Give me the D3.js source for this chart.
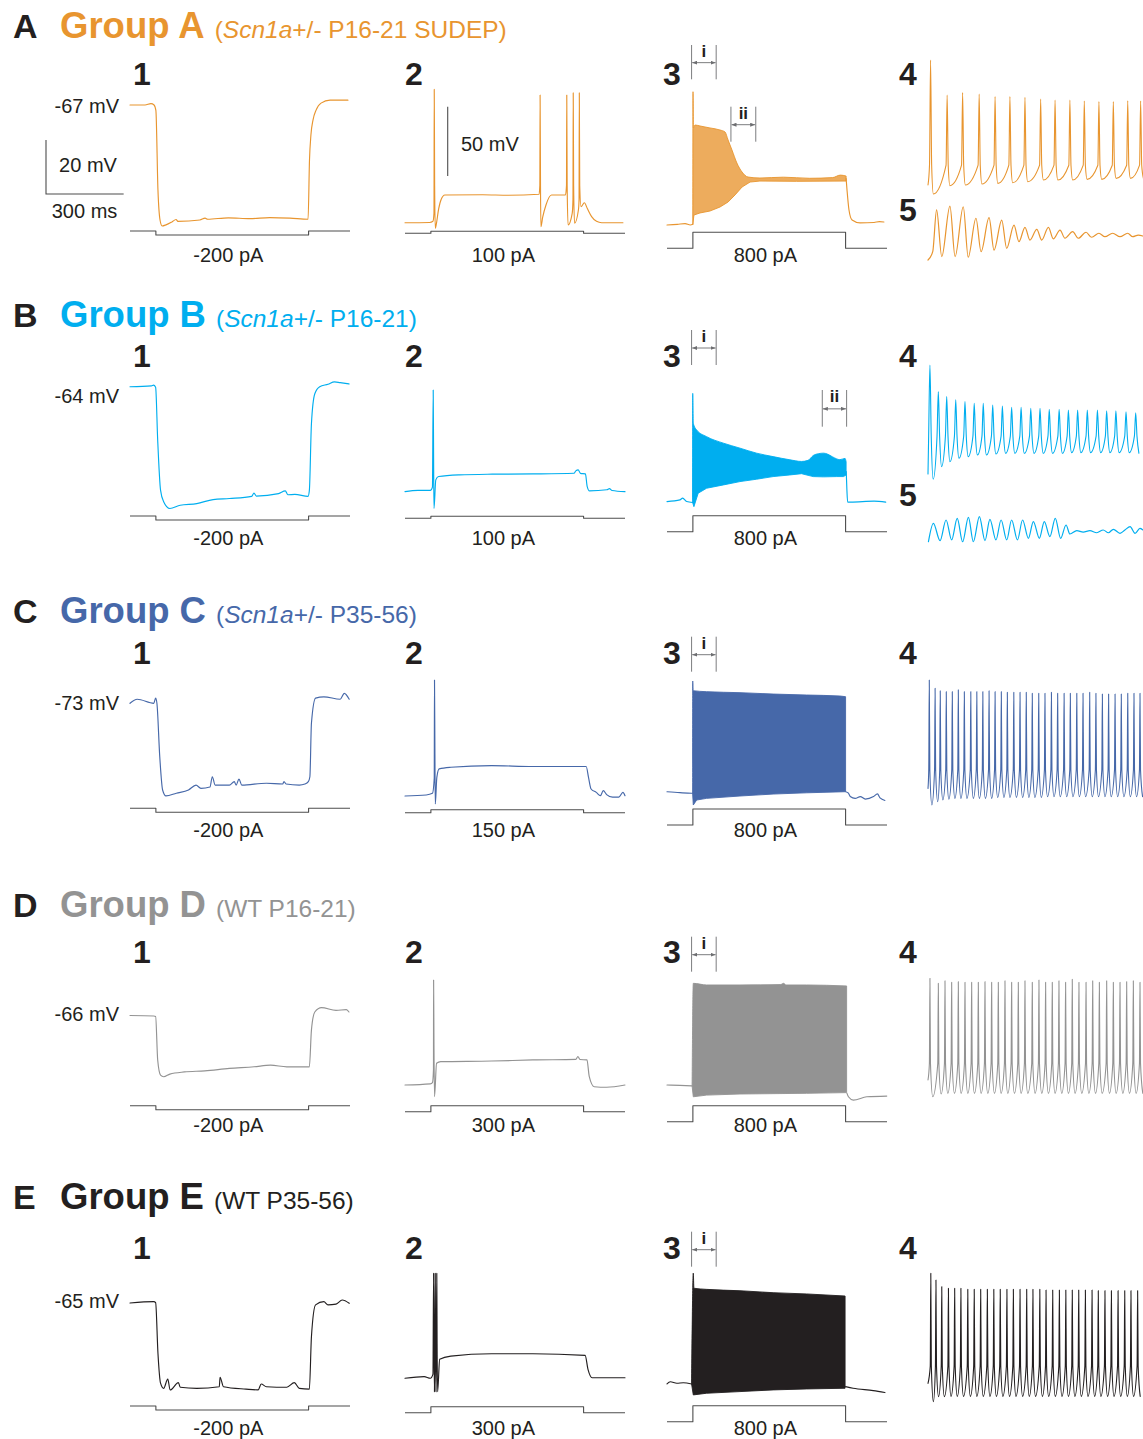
<!DOCTYPE html>
<html>
<head>
<meta charset="utf-8">
<script src="https://cdn.jsdelivr.net/npm/d3@7"></script>
<style>
  body { margin: 0; background: #ffffff; }
  svg { display: block; }
</style>
</head>
<body>
<svg id="fig" width="1143" height="1439"></svg>
<script>
// ---------------------------------------------------------------------------
// Groups, stimulus protocol and labels
// ---------------------------------------------------------------------------
const groupLetters   = ["A", "B", "C", "D", "E"];
const groupNames     = ["Group A", "Group B", "Group C", "Group D", "Group E"];
const genotypeItalic = ["Scn1a", "Scn1a", "Scn1a", "", ""];
const groupDetails   = ["+/- P16-21 SUDEP", "+/- P16-21", "+/- P35-56", "WT P16-21", "WT P35-56"];
const groupColors    = ["#E8952F", "#00AEEF", "#4668A9", "#939393", "#231F20"];
const restPotentials = [-67, -64, -73, -66, -65];      // mV
const hyperSteps     = [-200, -200, -200, -200, -200]; // pA, panel 1
const rheobaseSteps  = [100, 100, 150, 300, 300];      // pA, panel 2
const maxSteps       = [800, 800, 800, 800, 800];      // pA, panel 3
const stepWindow     = [100, 690];                     // ms
const sweepLength    = 850;                            // ms
const expandedWindow = 100;                            // ms shown in panels 4-5
const windowI        = [95, 190];                      // ms, expanded in panel 4
const windowII       = [[247, 343], [600, 694]];       // ms, expanded in panel 5 (A, B)
const scaleBars      = { mV1: 20, ms1: 300, mV2: 50 };

// ---------------------------------------------------------------------------
// Panel 1: hyperpolarising step, [time ms, Vm mV]
// ---------------------------------------------------------------------------
const hyperA = [[0,-67],[58,-67],[81,-66.5],[93,-67],[100,-69],[108,-98.5],[116,-109.6],[124,-111.8],
  [139,-111.4],[162,-110.3],[178,-109.4],[185,-110.1],[270,-109.6],[290,-108.9],[300,-109.3],[380,-108.8],
  [464,-109.1],[540,-108.7],[618,-108.9],[688,-109.3],[693.5,-87.4],[699,-78.1],[707,-72.6],[719,-68.9],
  [738,-66.3],[773,-65.2],[842,-65.2]];
const hyperB = [[0,-64],[83,-63.7],[91,-63.4],[99,-64.2],[107,-83.8],[118,-102.3],[130,-106.6],[154,-109.1],
  [194,-107.9],[258,-107.3],[321,-105.8],[384,-105.4],[470,-104.6],[479,-103.4],[488,-104.5],[574,-103.6],
  [600,-102.6],[610,-104],[637,-103.9],[688,-104.6],[693,-102.4],[701,-77.7],[714,-66.6],[733,-64],
  [765,-63.1],[790,-62.2],[812,-62.5],[847,-63]];
const hyperC = [[0,-73],[28,-71.5],[92,-73],[99,-71.1],[104,-73],[115,-92.8],[126,-105.1],[139,-107.3],
  [179,-106.3],[226,-105.1],[255,-103.3],[274,-104.5],[309,-104],[318,-100.2],[329,-103.3],[384,-103.3],
  [403,-102],[410,-103.3],[421,-101.1],[432,-103.3],[527,-102.6],[590,-102.9],[595,-102],[603,-102.9],
  [654,-103.3],[676,-102.9],[689,-102],[695,-100.2],[701,-80.4],[717,-71.1],[749,-70.6],[812,-71.5],
  [828,-69.3],[847,-71.5]];
const hyperD = [[0,-66],[92,-66.2],[99,-66.4],[107,-82.5],[118,-88.1],[130,-88.7],[154,-87.7],[210,-86.9],
  [289,-86.5],[384,-85.6],[479,-85],[543,-84.4],[606,-85],[693,-85],[701,-71.4],[714,-64.7],[740,-63.1],
  [796,-64.1],[836,-63.8],[846,-64.7]];
const hyperE = [[0,-65],[92,-64.5],[99,-64.9],[108,-83.6],[118,-94.7],[130,-96.6],[146,-93.2],[155,-97.2],
  [187,-94.5],[194,-96.2],[258,-96.6],[345,-96],[348,-92.5],[361,-96],[448,-96.9],[495,-97.2],[507,-95],
  [527,-96],[606,-96.2],[635,-94.5],[654,-96.6],[693,-96.9],[701,-77.5],[717,-65.7],[749,-64.5],
  [765,-65.7],[796,-65.4],[820,-63.9],[847,-65.1]];

// ---------------------------------------------------------------------------
// Panel 2: rheobase step, [time ms, Vm mV]
// ---------------------------------------------------------------------------
const rheoA = [[0,-67],[95,-66.8],[108,-66],[112,-60],[113,29.2],[114.5,-40],[117,-71.1],[121,-68],[130,-57],
  [140,-50],[154,-47],[300,-46.8],[400,-47.2],[518,-46.5],[521,-40],[522,25.1],[523.5,-40],[525,-69.9],
  [532,-63],[545,-54],[566,-47],[620,-47],[624,-40],[625,25.1],[626.5,-40],[630,-68.6],[646,-60.2],
  [649,-50],[650,26.7],[651.5,-40],[655,-67.4],[670,-57.8],[672.5,-50],[673.5,26.7],[675,-40],[680,-55.4],
  [693,-52.6],[705,-57],[721,-62.6],[740,-66],[760,-67],[842,-67]];
const rheoB = [[0,-64],[50,-63.1],[98,-63.1],[106,-60.7],[109,9.3],[110.5,-40],[112,-76.1],[119,-55.5],
  [130,-53.1],[210,-51.9],[337,-51.4],[495,-51.2],[653,-50.7],[660,-49],[669,-48.3],[678,-50.8],[697,-51.2],
  [704,-60.3],[713,-63.4],[780,-62.6],[790,-61.8],[800,-63.2],[850,-64]];
const rheoC = [[0,-73],[82,-72.3],[106,-71.1],[113,-60],[114,10.6],[115.5,-40],[117,-78.8],[123,-59.6],
  [132,-53.5],[177,-52.3],[335,-51.1],[494,-51.8],[700,-51.8],[709,-59.6],[719,-68],[739,-70.4],[755,-72.8],
  [766,-69.2],[779,-72],[802,-73.9],[826,-73.9],[842,-70.4],[850,-72.8]];
const rheoD = [[0,-66],[98,-65.2],[106,-64.3],[110,-55],[110.5,9.7],[112,-40],[114,-74.3],[122,-50.3],
  [138,-49.1],[335,-48.7],[494,-47.9],[660,-47.5],[668,-45.5],[676,-47.6],[703,-47.9],[712,-60],[731,-67.2],
  [779,-67.6],[850,-66]];
const rheoE = [[0,-65],[74,-63.8],[98,-65],[108,-62],[110.5,10.7],[112,-40],[113.8,-74.7],[115.5,-40],
  [116.8,10.7],[118,-40],[119.8,-74.7],[121.5,-40],[122.8,10.7],[124,-40],[126,-74.7],[134,-51.3],[177,-49],
  [335,-47.3],[494,-47.3],[696,-48.5],[707,-58.6],[723,-64.6],[850,-64.6]];

// ---------------------------------------------------------------------------
// Panel 3: maximal step. Baseline before/after, and the upper/lower envelope
// of the spike train during the step, [time ms, Vm mV]
// ---------------------------------------------------------------------------
const trainPreA   = [[0,-67],[40,-66.5],[70,-66],[90,-67],[100,-66.5]];
const trainUpperA = [[100,-66.5],[100.5,29.1],[102,3],[108,5.1],[127.5,4.4],[166,3],[205,1.5],[224,0.1],
  [236,-5.7],[251,-12.9],[270,-22.3],[290,-28.8],[313,-32.4],[359,-33.1],[450,-32.5],[550,-33.3],[640,-32.8],
  [670,-31],[692,-31.7]];
const trainLowerA = [[100,-66.5],[104,-59.8],[127.5,-58.3],[166,-56.9],[205,-54],[236,-50.4],[263,-45.3],
  [290,-39.6],[321,-36],[359,-35.3],[500,-35.5],[692,-35.3]];
const trainPostA  = [[692,-33.5],[695.5,-41.7],[703,-56],[715,-63.4],[746,-65.5],[800,-65.2],[820,-64.5],[838,-64.8]];

const trainPreB   = [[0,-63.7],[50,-62.5],[60.5,-61.2],[76,-63.7],[99,-64.4]];
const trainUpperB = [[99,-64.4],[99.3,14.3],[101.6,-7.3],[114.6,-12.1],[153,-16.9],[218,-21.6],[282,-25.2],
  [346,-28.8],[410,-31.3],[475,-33.6],[520,-34.8],[545,-34],[565,-30.5],[585,-29.2],[605,-28.8],[620,-29.5],
  [640,-31.5],[668,-33.5],[688,-32.6],[692,-35]];
const trainLowerB = [[99,-64.4],[104,-67.4],[120.5,-57.7],[153,-54.1],[218,-51.7],[282,-49.3],[346,-47.6],
  [410,-45.7],[475,-44.5],[520,-43.6],[545,-44.8],[565,-45.7],[604,-45.9],[656,-45.7],[682,-45.7],[692,-44.5]];
const trainPostB  = [[692.5,-42],[695,-55],[698,-64.1],[710,-64.1],[800,-63.4],[845,-64.1]];

const trainPreC   = [[0,-72.1],[50,-72.8],[95,-73.2],[99,-73.2]];
const trainUpperC = [[99,-73.2],[99.3,7.7],[101,0.7],[153,0],[282,-0.7],[410,-1.7],[539,-2.4],[668,-3.1],[690,-3.6]];
const trainLowerC = [[99,-73.2],[101.6,-81.7],[114.6,-78.1],[153,-76.9],[282,-75.2],[410,-73.8],[539,-72.9],[690,-72.1]];
const trainPostC  = [[690.5,-72.1],[701,-73.2],[708,-75.6],[727,-76.9],[747,-75.6],[766,-77.4],[798,-75.6],
  [813,-73.7],[823,-76.6],[842,-78.4]];

const trainPreD   = [[0,-65.6],[50,-65.9],[97,-66.3]];
const trainUpperD = [[97,-66.3],[101.6,7.7],[153,6.5],[282,6.5],[440,6.8],[450,7.7],[460,6.5],[539,6.5],[694,5.8]];
const trainLowerD = [[97,-66.3],[101.6,-74.1],[153,-72.9],[282,-72.1],[539,-71.6],[694,-71.1]];
const trainPostD  = [[695,-71.5],[701,-74.1],[720,-76.5],[772,-74.1],[849,-73.6]];

const trainPreE   = [[0,-65],[13,-63.4],[38,-64.5],[63,-64.1],[95,-65]];
const trainUpperE = [[95,-65],[101.6,14.9],[104,4],[153,3.2],[282,2.2],[410,0.8],[539,-0.1],[688,-1.6]];
const trainLowerE = [[95,-65],[101.6,-72.9],[153,-71.7],[282,-70.5],[410,-69.3],[539,-68.6],[688,-68.1]];
const trainPostE  = [[690,-66.9],[719,-68.1],[797,-69.8],[842,-71.2]];

// ---------------------------------------------------------------------------
// Panel 4: first ~100 ms of the train (window i). Spike times (ms from the
// start of the window), peak and trough potentials (mV)
// ---------------------------------------------------------------------------
const spikeStartV = [-61.3, -64.3, -70.4, -65.1, -64.4];

const spikeTimesA  = [1.2, 8.9, 16.1, 23.8, 31.2, 38.1, 45.1, 52.4, 59.1, 66.0, 72.7, 79.5, 86.2, 92.9, 98.9];
const spikePeaksA  = [28.8, 3.6, 5.3, 4.3, 2.4, 2.4, 1.9, 0.7, 0, 0, -0.7, -1.2, -1.2, -0.5, -0.7];
const spikeTroughA = [-67.8, -61.8, -61.3, -60.6, -60.1, -59.7, -58.9, -57.7, -57.7, -57.7, -57.2, -57.2, -56.5, -56.5, -56.5];

const spikeTimesB  = [0.9, 4.8, 8.7, 12.9, 17.2, 21.5, 25.7, 30.1, 34.6, 38.9, 43.3, 47.8, 52.1, 56.4, 61.0,
  65.3, 69.6, 74.1, 78.8, 83.1, 87.4, 92.1, 96.6];
const spikePeaksB  = [14.3, -4.9, -8.5, -10.8, -12.0, -13.3, -13.3, -14.6, -15.3, -16.2, -16.2, -16.9, -16.9,
  -17.7, -17.7, -18.2, -18.2, -18.2, -18.2, -18.7, -18.7, -19.4, -20.1];
const spikeTroughB = [-68.1, -59.0, -55.4, -53.0, -51.8, -50.6, -50.6, -49.9, -49.4, -49.4, -49.4, -49.4, -49.4,
  -49.4, -49.4, -48.9, -48.9, -48.9, -48.9, -48.9, -48.9, -48.9, -49.4];

const spikeTimesC  = [0.6, 3.3, 5.7, 8.5, 11.3, 14.1, 16.9, 19.9, 22.7, 25.5, 28.4, 31.2, 34.1, 36.9, 39.9, 42.8,
  45.7, 48.5, 51.5, 54.4, 57.4, 60.3, 63.3, 66.2, 69.2, 72.1, 75.2, 78.1, 81.1, 84.0, 87.0, 89.9, 92.9, 95.8, 98.6];
const spikePeaksC  = [7.7, 1.7, 0, -0.7, -0.7, 0.7, -0.7, -0.7, -0.7, -0.7, 0, -0.7, -0.7, -1.2, -1.2, -1.2,
  -1.2, -1.9, -1.9, -1.9, -1.2, -1.9, -1.9, -1.9, -1.9, -1.9, -1.2, -1.9, -2.4, -2.4, -2.4, -2.4, -1.9, -1.9, -1.9];
const spikeTroughC = [-82.4, -80.0, -78.8, -78.3, -77.6, -77.6, -77.6, -77.6, -77.6, -77.6, -77.6, -76.9, -76.9,
  -76.9, -76.9, -76.9, -76.9, -76.9, -76.9, -76.4, -76.4, -76.4, -76.4, -76.4, -76.4, -76.4, -76.4, -76.4,
  -76.4, -76.4, -76.4, -76.4, -76.4, -76.4, -76.4];

const spikeTimesD  = [0.9, 4.8, 7.9, 11.0, 14.1, 17.2, 20.3, 23.4, 26.5, 29.6, 32.7, 35.8, 38.9, 42.0, 45.1, 48.5,
  51.6, 54.7, 57.8, 60.9, 64.0, 67.1, 70.2, 73.5, 76.6, 79.7, 83.1, 86.2, 89.3, 92.4, 95.5, 98.6];
const spikePeaksD  = [8.2, 4.6, 6.5, 5.3, 5.8, 5.3, 5.3, 5.3, 5.8, 5.3, 5.3, 6.5, 5.3, 5.3, 6.5, 5.3, 7.0, 5.3,
  5.3, 6.5, 5.3, 7.5, 5.3, 5.3, 6.5, 5.3, 6.5, 5.3, 5.3, 5.8, 6.5, 5.3];
const spikeTroughD = [-77.1, -75.2, -74.7, -74.7, -74.7, -74.7, -74.7, -74.7, -74.7, -74.7, -74.7, -74.7, -74.7,
  -74.7, -74.7, -74.7, -74.7, -74.7, -74.7, -74.7, -74.7, -74.7, -74.7, -74.7, -74.7, -74.7, -74.7, -74.7,
  -74.7, -74.7, -74.7, -74.7];

const spikeTimesE  = [1.3, 3.7, 6.4, 9.5, 12.4, 15.3, 18.5, 21.5, 24.5, 27.6, 30.6, 33.6, 36.7, 39.7, 42.8, 45.9,
  48.8, 52.0, 54.9, 58.0, 61.1, 64.1, 67.1, 70.1, 73.2, 76.3, 79.2, 82.3, 85.3, 88.4, 91.5, 94.4, 97.5];
const spikePeaksE  = [14.9, 10.1, 5.3, 4.1, 4.1, 4.1, 3.4, 3.4, 3.4, 3.4, 3.4, 3.4, 3.4, 3.4, 3.4, 3.4, 3.4, 3.4,
  2.9, 2.9, 2.9, 2.9, 2.9, 2.9, 2.9, 2.9, 2.4, 2.4, 2.4, 2.4, 2.4, 2.4, 2.4];
const spikeTroughE = [-77.7, -74.0, -74.0, -73.8, -73.8, -73.8, -73.8, -73.8, -73.8, -73.8, -73.8, -73.8, -73.8,
  -73.8, -73.8, -73.8, -73.8, -73.8, -73.8, -73.8, -73.8, -73.8, -73.8, -73.8, -73.8, -73.8, -73.8, -73.8,
  -73.8, -73.8, -73.8, -73.8, -73.8];

// ---------------------------------------------------------------------------
// Panel 5: window ii, damped oscillation during depolarisation block [ms, mV]
// ---------------------------------------------------------------------------
const oscA = [[0,-51.2],[2.2,-45.2],[4.0,-15.1],[6.4,-48.8],[10.2,-12.3],[12.6,-48.8],[16.4,-12.8],[18.7,-49.2],
  [22.3,-21.1],[24.7,-45.2],[28.4,-20.7],[30.7,-44.0],[34.3,-22.4],[36.6,-42.8],[40.0,-26.0],[42.3,-38.0],
  [45.1,-27.6],[47.4,-36.8],[50.6,-29.1],[52.9,-36.8],[56.0,-27.6],[58.3,-36.0],[61.4,-29.6],[63.7,-35.5],
  [67.3,-30.8],[69.9,-35.5],[73.5,-31.2],[76.1,-34.8],[79.5,-31.9],[82.3,-34.4],[85.9,-31.9],[89.3,-34.4],
  [92.9,-31.9],[95.2,-34.4],[97.8,-33.2],[99.9,-33.9]];
const oscB = [[0.2,-47.2],[2.5,-33.9],[5.6,-46.4],[8.4,-31.5],[11.0,-45.9],[13.6,-30.3],[16.1,-47.2],[18.8,-29.6],
  [21.1,-47.2],[23.9,-29.1],[26.5,-46.4],[28.8,-31.0],[31.6,-45.9],[34.0,-31.5],[36.6,-45.9],[38.9,-31.5],
  [41.6,-45.9],[44.0,-31.5],[46.7,-44.7],[49.0,-32.7],[51.8,-44.7],[54.1,-32.7],[56.7,-43.5],[59.2,-30.3],
  [61.7,-44.7],[64.2,-35.1],[66.0,-41.6],[69.2,-39.2],[72.2,-40.2],[75.3,-39.2],[78.5,-40.7],[81.5,-38.7],
  [83.9,-40.7],[86.2,-38.2],[89.3,-41.1],[91.6,-38.7],[94.0,-36.3],[96.3,-41.1],[98.6,-37.5],[100,-38.7]];

// ---------------------------------------------------------------------------
// Drawing
// ---------------------------------------------------------------------------
const hyperTraces = [hyperA, hyperB, hyperC, hyperD, hyperE];
const rheoTraces  = [rheoA, rheoB, rheoC, rheoD, rheoE];
const trainPre    = [trainPreA, trainPreB, trainPreC, trainPreD, trainPreE];
const trainUpper  = [trainUpperA, trainUpperB, trainUpperC, trainUpperD, trainUpperE];
const trainLower  = [trainLowerA, trainLowerB, trainLowerC, trainLowerD, trainLowerE];
const trainPost   = [trainPostA, trainPostB, trainPostC, trainPostD, trainPostE];
const spikeTimes  = [spikeTimesA, spikeTimesB, spikeTimesC, spikeTimesD, spikeTimesE];
const spikePeaks  = [spikePeaksA, spikePeaksB, spikePeaksC, spikePeaksD, spikePeaksE];
const spikeTrough = [spikeTroughA, spikeTroughB, spikeTroughC, spikeTroughD, spikeTroughE];
const oscTraces   = [oscA, oscB];

const INK = "#231F20", STIM = "#4d4d4d", BRACKET = "#6d6e71";
const FONT = "'Liberation Sans', Arial, Helvetica, sans-serif";
const K1 = 2.7;    // px per mV in panel 1
const K2 = 1.387;  // px per mV in panels 2-5
const panelX = [130, 405, 667];
const panelW = 220;

// vertical placement of every row
const rowLayout = [
  { title: 38,   num: 85,   num5: 221, restText: 113,  y1: 105,    y2: 129.8,  y3: 132.1,  y4: 100,    y5: 189,
    cur: [231, 233.3, 248.3],     curText: 262,  iBr: [45, 79.3],      iiBr: [106.7, 141.7] },
  { title: 327,  num: 367,  num5: 506, restText: 403,  y1: 386.7,  y2: 402.9,  y3: 413.2,  y4: 384.8,  y5: 476.3,
    cur: [516, 518.3, 531.7],     curText: 545,  iBr: [330, 365],      iiBr: [390, 426.7] },
  { title: 623,  num: 664,  restText: 710,  y1: 703.3,  y2: 694.7,  y3: 691.7,  y4: 690.7,
    cur: [808.3, 812.7, 825],     curText: 837,  iBr: [636.7, 671.7] },
  { title: 917,  num: 963,  restText: 1021, y1: 1015.5, y2: 993.5,  y3: 994,    y4: 989.7,
    cur: [1105.7, 1111.7, 1121.7], curText: 1132, iBr: [936.7, 971.7] },
  { title: 1209, num: 1259, restText: 1308, y1: 1303,   y2: 1288.1, y3: 1293.8, y4: 1294,
    cur: [1406, 1412.7, 1421.7],  curText: 1435, iBr: [1231.7, 1266.7] }
];

// waveform of a single spike in panel 4 (ms) and its threshold (mV)
const spikeShape = [
  { rise: 0.5,  fall: 0.5,  ahp: 1.3, thr: -47 },
  { rise: 0.6,  fall: 0.6,  ahp: 1.5, thr: -37 },
  { rise: 0.25, fall: 0.25, ahp: 1.2, thr: -57 },
  { rise: 0.25, fall: 0.25, ahp: 1.3, thr: -53 },
  { rise: 0.25, fall: 0.25, ahp: 1.2, thr: -52 }
];

const svg = d3.select("#fig").attr("font-family", FONT);

const defs = svg.append("defs");
defs.append("marker").attr("id", "arr").attr("viewBox", "0 0 10 8")
  .attr("refX", 10).attr("refY", 4).attr("markerWidth", 5).attr("markerHeight", 4)
  .attr("markerUnits", "userSpaceOnUse").attr("orient", "auto-start-reverse")
  .append("path").attr("d", "M0,0L10,4L0,8Z").attr("fill", BRACKET);
defs.append("clipPath").attr("id", "clip4").append("rect")
  .attr("x", 920).attr("y", 0).attr("width", 223).attr("height", 1439);

const sweepX = i => d3.scaleLinear().domain([0, sweepLength]).range([panelX[i], panelX[i] + panelW]);
const zoomX  = d3.scaleLinear().domain([0, expandedWindow]).range([928, 1143]);
const vScale = (v0, y0, k) => d3.scaleLinear().domain([v0, v0 - 100]).range([y0, y0 + 100 * k]);

function trace(g, pts, x, y, color, width, curve) {
  return g.append("path")
    .attr("d", d3.line().x(d => x(d[0])).y(d => y(d[1])).curve(curve || d3.curveMonotoneX)(pts))
    .attr("fill", "none").attr("stroke", color).attr("stroke-width", width)
    .attr("stroke-linejoin", "round").attr("stroke-linecap", "round");
}

function stimulus(g, x, base, amp) {
  const iy = d3.scaleLinear().domain([0, 800]).range([base, base - 16]);
  const pts = [[0, 0], [stepWindow[0], 0], [stepWindow[0], amp], [stepWindow[1], amp], [stepWindow[1], 0], [sweepLength, 0]];
  trace(g, pts, x, iy, STIM, 1.1, d3.curveLinear).attr("stroke-linecap", "butt");
}

function label(g, x, y, txt, anchor, size, weight, color) {
  return g.append("text").attr("x", x).attr("y", y).attr("text-anchor", anchor || "start")
    .attr("font-size", size || 20).attr("font-weight", weight || "normal")
    .attr("fill", color || INK).text(txt);
}

function bracket(g, x, win, span, txt) {
  const xa = x(win[0]), xb = x(win[1]);
  const bg = g.append("g").attr("stroke", BRACKET).attr("stroke-width", 0.9).attr("fill", "none");
  bg.append("line").attr("x1", xa).attr("x2", xa).attr("y1", span[0]).attr("y2", span[1]);
  bg.append("line").attr("x1", xb).attr("x2", xb).attr("y1", span[0]).attr("y2", span[1]);
  const ay = (span[0] + span[1]) / 2 + 0.5;
  bg.append("line").attr("x1", xa + 0.6).attr("x2", xb - 0.6).attr("y1", ay).attr("y2", ay)
    .attr("marker-start", "url(#arr)").attr("marker-end", "url(#arr)");
  label(g, (xa + xb) / 2, span[0] + 12, txt, "middle", 17, "bold");
}

function spikeTrainPoints(times, peaks, troughs, v0, s) {
  const pts = [[0, v0]];
  times.forEach((t, i) => {
    if (t - s.rise > pts[pts.length - 1][0] + 0.05) pts.push([t - s.rise, s.thr]);
    pts.push([t, peaks[i]], [t + s.fall, s.thr], [t + s.ahp, troughs[i]]);
  });
  return pts;
}

groupLetters.forEach((letter, r) => {
  const L = rowLayout[r];
  const color = groupColors[r];
  const g = svg.append("g").attr("class", "row-" + letter);

  // heading
  label(g, 13, L.title, letter, "start", 34, "bold");
  const name = label(g, 60, L.title, groupNames[r], "start", 36.5, "bold", color);
  const sub = g.append("text").attr("x", 60 + name.node().getComputedTextLength() + 10)
    .attr("y", L.title).attr("font-size", 24.5).attr("fill", color);
  sub.append("tspan").text("(");
  if (genotypeItalic[r]) sub.append("tspan").attr("font-style", "italic").text(genotypeItalic[r]);
  sub.append("tspan").text(groupDetails[r] + ")");

  // panel numbers
  [["1", 133], ["2", 405], ["3", 663], ["4", 899]].forEach(([n, x]) => label(g, x, L.num, n, "start", 32, "bold"));
  if (L.num5) label(g, 899, L.num5, "5", "start", 32, "bold");

  // panel 1: hyperpolarising step
  const x1 = sweepX(0), y1 = vScale(restPotentials[r], L.y1, K1);
  trace(g, hyperTraces[r], x1, y1, color, 1.15);
  stimulus(g, x1, L.cur[0], hyperSteps[r]);
  label(g, 119, L.restText, restPotentials[r] + " mV", "end");
  label(g, x1(380), L.curText, hyperSteps[r] + " pA", "middle");

  // panel 2: rheobase step
  const x2 = sweepX(1), y2 = vScale(0, L.y2, K2);
  trace(g, rheoTraces[r], x2, y2, color, 1.15);
  stimulus(g, x2, L.cur[1], rheobaseSteps[r]);
  label(g, x2(380), L.curText, rheobaseSteps[r] + " pA", "middle");

  // panel 3: maximal step with envelope of the spike train
  const x3 = sweepX(2), y3 = vScale(0, L.y3, K2);
  const poly = trainUpper[r].concat(trainLower[r].slice().reverse());
  g.append("path")
    .attr("d", d3.line().x(d => x3(d[0])).y(d => y3(d[1])).curve(d3.curveMonotoneX)(trainUpper[r]) +
               "L" + d3.line().x(d => x3(d[0])).y(d => y3(d[1]))(trainLower[r].slice().reverse()).slice(1) + "Z")
    .attr("fill", color).attr("fill-opacity", r === 0 ? 0.78 : 1)
    .attr("stroke", color).attr("stroke-width", 0.9).attr("stroke-linejoin", "round");
  trace(g, trainPre[r], x3, y3, color, 1.15);
  trace(g, trainPost[r], x3, y3, color, 1.15);
  stimulus(g, x3, L.cur[2], maxSteps[r]);
  label(g, x3(380), L.curText, maxSteps[r] + " pA", "middle");
  bracket(g, x3, windowI, L.iBr, "i");
  if (L.iiBr) bracket(g, x3, windowII[r], L.iiBr, "ii");

  // panel 4: expanded onset of the train
  const g4 = g.append("g").attr("clip-path", "url(#clip4)");
  const y4 = vScale(0, L.y4, K2);
  trace(g4, spikeTrainPoints(spikeTimes[r], spikePeaks[r], spikeTrough[r], spikeStartV[r], spikeShape[r]),
        zoomX, y4, color, 1.1);

  // panel 5: expanded late part of the train
  if (L.y5) {
    const y5 = vScale(0, L.y5, K2);
    trace(g4, oscTraces[r], zoomX, y5, color, 1.2);
  }

  // scale bars (row A only)
  if (r === 0) {
    const sb = g.append("g").attr("stroke", STIM).attr("stroke-width", 1.1).attr("fill", "none");
    const bx = 46, by = 194;
    const hmV = y1(restPotentials[r] - scaleBars.mV1) - y1(restPotentials[r]);
    const wMs = x1(scaleBars.ms1) - x1(0);
    sb.append("path").attr("d", `M${bx},${by - hmV}V${by}H${bx + wMs}`);
    label(g, 88, 172, scaleBars.mV1 + " mV", "middle");
    label(g, 84.5, 218, scaleBars.ms1 + " ms", "middle");
    const h2 = y2(-scaleBars.mV2) - y2(0);
    const bx2 = x2(165), by2 = 176;
    sb.append("line").attr("x1", bx2).attr("x2", bx2).attr("y1", by2 - h2).attr("y2", by2);
    label(g, 461, 151, scaleBars.mV2 + " mV", "start");
  }
});
</script>
</body>
</html>
